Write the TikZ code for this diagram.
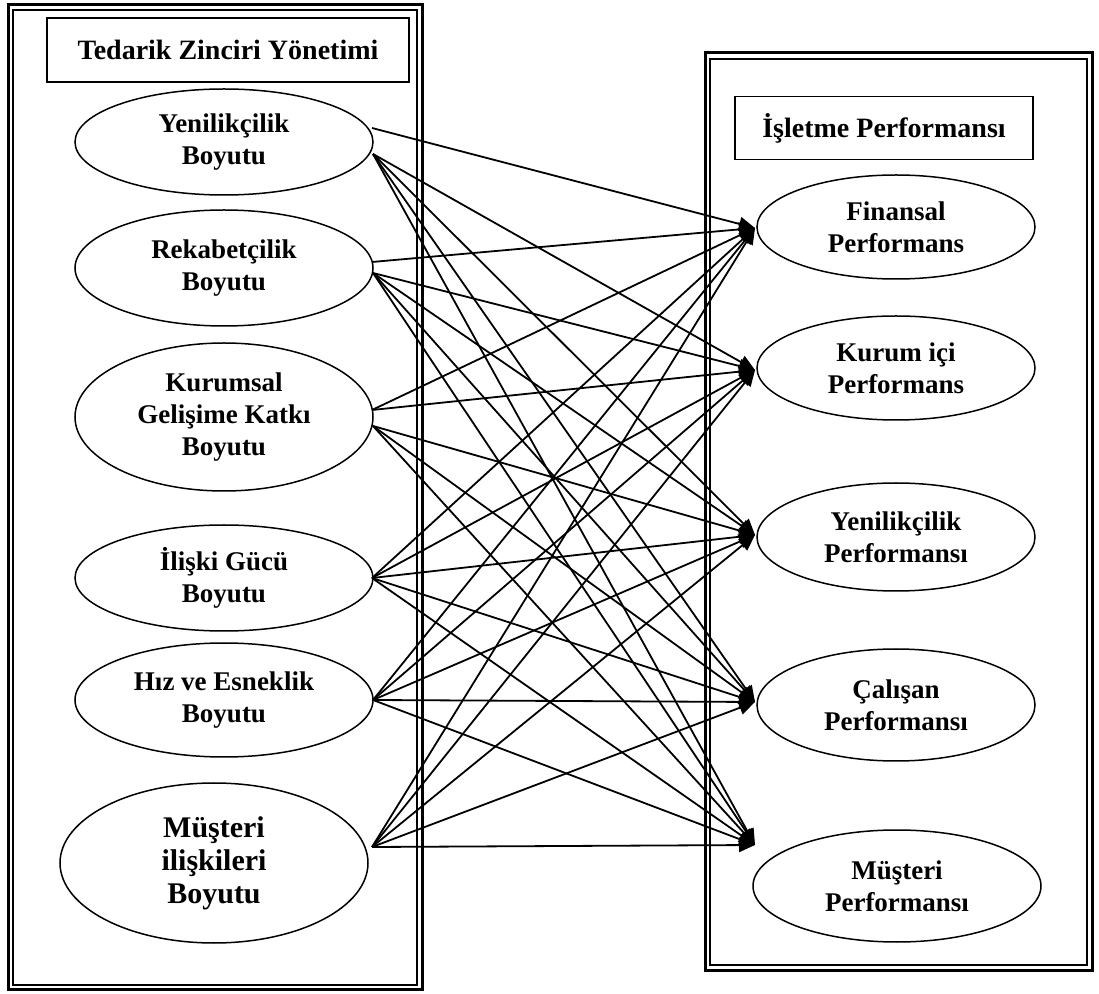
\documentclass[tikz,border=0pt]{standalone}
\usepackage{fontspec}
\setmainfont{Liberation Serif}
\usetikzlibrary{arrows.meta}
\usetikzlibrary{shapes.geometric, positioning, calc}

\begin{document}
\begin{tikzpicture}[x=0.5pt, y=-0.5pt,
    boyut/.style={ellipse, draw, line width=0.75pt, inner sep=0pt, align=center,
      font=\bfseries\fontsize{13.5}{16}\selectfont, minimum width=149pt, minimum height=53pt},
    perf/.style={boyut, minimum width=139pt, minimum height=52pt},
    baslik/.style={draw, line width=0.75pt, minimum width=181pt, minimum height=32pt,
      font=\bfseries\fontsize{14}{16}\selectfont},
    ok/.style={-{Triangle[length=8pt, width=7pt]}, line width=0.9pt}]
  \useasboundingbox (0,0) rectangle (1099,994);

  % double frames
  \draw[line width=1.5pt] (8,5) rectangle (422,989);
  \draw[line width=0.75pt] (13,10) rectangle (417,985);
  \draw[line width=1.5pt] (705,53) rectangle (1092,970);
  \draw[line width=0.75pt] (710,59) rectangle (1087,965);

  \node[baslik] (tzy) at (228,50) {Tedarik Zinciri Yönetimi};
  \node[baslik, minimum width=149pt, minimum height=31.5pt] (ip) at (884,128) {İşletme Performansı};

  % left side
  \node[boyut] (yen) at (224,142) {Yenilikçilik\\Boyutu};
  \node[boyut, minimum height=58pt] (rek) at (224,268) {Rekabetçilik\\Boyutu};
  \node[boyut, minimum height=74pt] (kur) at (224,417) {Kurumsal\\Gelişime Katkı\\Boyutu};
  \node[boyut] (ili) at (224,578) {İlişki Gücü\\Boyutu};
  \node[boyut, minimum height=57pt] (hiz) at (224,700) {Hız ve Esneklik\\Boyutu};
  \node[boyut, minimum width=154pt, minimum height=80pt,
    font=\bfseries\fontsize{15}{16.5}\selectfont] (mus) at (214,863) {Müşteri\\ilişkileri\\Boyutu};

  % right side
  \node[perf] (fin) at (896,227) {Finansal\\Performans};
  \node[perf] (kip) at (896,368) {Kurum içi\\Performans};
  \node[perf, minimum height=54pt] (ynp) at (896,537) {Yenilikçilik\\Performansı};
  \node[perf, minimum height=56pt] (cal) at (896,705) {Çalışan\\Performansı};
  \node[perf, minimum width=144pt, minimum height=56pt] (mup) at (897,886) {Müşteri\\Performansı};

  % connector ends
  \coordinate (yen-a) at (372,128);
  \coordinate (yen-b) at (373,154);
  \coordinate (rek-a) at (372,262);
  \coordinate (rek-b) at (373,273);
  \coordinate (kur-a) at (372,410);
  \coordinate (kur-b) at (373,426);
  \coordinate (ili-a) at (372,578);
  \coordinate (hiz-a) at (373,700);
  \coordinate (mus-a) at (372,847);

  \coordinate (fin-in) at (755,228);
  \coordinate (kip-in) at (755,370);
  \coordinate (ynp-in) at (755,535);
  \coordinate (cal-in) at (755,702);
  \coordinate (mup-in) at (755,845);

  \draw[ok] (yen-a) -- (fin-in);
  \foreach \t in {kip,ynp,cal,mup} \draw[ok] (yen-b) -- (\t-in);
  \draw[ok] (rek-a) -- (fin-in);
  \foreach \t in {kip,ynp,cal,mup} \draw[ok] (rek-b) -- (\t-in);
  \foreach \t in {fin,kip} \draw[ok] (kur-a) -- (\t-in);
  \foreach \t in {ynp,cal,mup} \draw[ok] (kur-b) -- (\t-in);
  \foreach \t in {fin,kip,ynp,cal,mup} \draw[ok] (ili-a) -- (\t-in);
  \foreach \t in {fin,kip,ynp,cal,mup} \draw[ok] (hiz-a) -- (\t-in);
  \foreach \t in {fin,kip,ynp,cal,mup} \draw[ok] (mus-a) -- (\t-in);

\end{tikzpicture}
\end{document}
